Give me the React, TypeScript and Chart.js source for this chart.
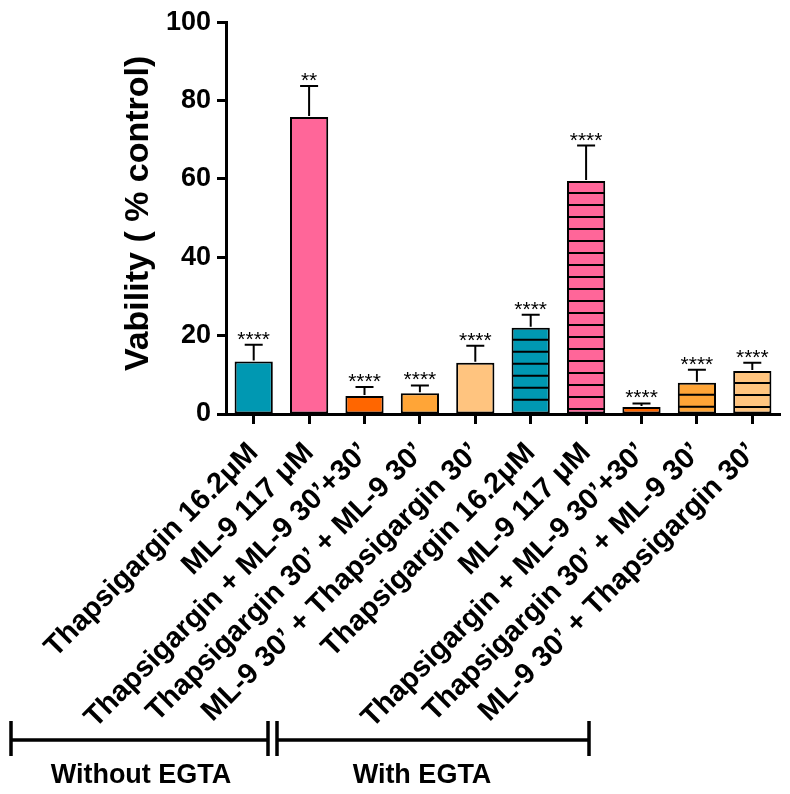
import React, { useEffect, useRef } from "react";
import { Chart, registerables } from "chart.js";

Chart.register(...registerables);

const categories = [
  "Thapsigargin 16.2μM",
  "ML-9 117 μM",
  "Thapsigargin + ML-9 30’+30’",
  "Thapsigargin 30’ + ML-9 30’",
  "ML-9 30’ + Thapsigargin 30’",
  "Thapsigargin 16.2μM",
  "ML-9 117 μM",
  "Thapsigargin + ML-9 30’+30’",
  "Thapsigargin 30’ + ML-9 30’",
  "ML-9 30’ + Thapsigargin 30’",
];
const values = [13.4, 75.8, 4.6, 5.3, 13.1, 22.0, 59.5, 1.8, 8.0, 11.0];
const errors = [4.3, 7.9, 2.3, 2.0, 4.3, 3.3, 9.0, 0.9, 3.3, 2.1];
const stars = ["****", "**", "****", "****", "****", "****", "****", "****", "****", "****"];
const barColors = [
  "#0098B2", "#FF6699", "#FF6600", "#FFA537", "#FFC47F",
  "#0098B2", "#FF6699", "#FF6600", "#FFA537", "#FFC47F",
];
const hatched = [false, false, false, false, false, true, true, true, true, true];
const groups = ["Without EGTA", "With EGTA"];

const FONT = "'Liberation Sans', Arial, Helvetica, sans-serif";

const overlayPlugin = {
  id: "overlay",
  afterDatasetsDraw(chart: any) {
    const ctx = chart.ctx;
    const meta = chart.getDatasetMeta(0);
    const yScale = chart.scales.y;
    meta.data.forEach((bar: any, i: number) => {
      const p = bar.getProps(["x", "y", "base", "width"], true);
      const left = p.x - p.width / 2;
      const right = p.x + p.width / 2;
      ctx.save();
      ctx.strokeStyle = "#000";
      ctx.lineWidth = 2;
      if (hatched[i]) {
        ctx.beginPath();
        for (let yy = p.y + 12; yy < p.base - 3; yy += 12) {
          ctx.moveTo(left + 1, yy);
          ctx.lineTo(right - 1, yy);
        }
        ctx.stroke();
      }
      const yErr = yScale.getPixelForValue(values[i] + errors[i]);
      ctx.beginPath();
      ctx.moveTo(p.x, p.y - 1);
      ctx.lineTo(p.x, yErr);
      ctx.moveTo(p.x - 9, yErr);
      ctx.lineTo(p.x + 9, yErr);
      ctx.stroke();
      ctx.fillStyle = "#000";
      ctx.font = `21px ${FONT}`;
      ctx.textAlign = "center";
      ctx.textBaseline = "alphabetic";
      ctx.fillText(stars[i], p.x, yErr + 1);
      ctx.restore();
    });
  },
  afterDraw(chart: any) {
    const ctx = chart.ctx;
    ctx.save();
    ctx.strokeStyle = "#000";
    ctx.lineWidth = 3.5;
    const lineY = 740;
    const drawBracket = (x1: number, x2: number) => {
      ctx.beginPath();
      ctx.moveTo(x1, lineY);
      ctx.lineTo(x2, lineY);
      ctx.moveTo(x1, 721);
      ctx.lineTo(x1, 756);
      ctx.moveTo(x2, 721);
      ctx.lineTo(x2, 756);
      ctx.stroke();
    };
    drawBracket(11, 268);
    drawBracket(277, 589);
    ctx.fillStyle = "#000";
    ctx.font = `bold 27px ${FONT}`;
    ctx.textAlign = "center";
    ctx.textBaseline = "middle";
    ctx.fillText(groups[0], 141, 776);
    ctx.fillText(groups[1], 422, 776);
    ctx.restore();
  },
};

export default function App() {
  const ref = useRef<HTMLCanvasElement>(null);
  useEffect(() => {
    if (!ref.current) return;
    const chart = new Chart(ref.current, {
      type: "bar",
      data: {
        labels: categories,
        datasets: [
          {
            data: values,
            backgroundColor: barColors,
            borderColor: "#000",
            borderWidth: 2,
            borderSkipped: false,
            barPercentage: 0.69,
            categoryPercentage: 1,
          },
        ],
      },
      options: {
        animation: false,
        responsive: false,
        maintainAspectRatio: false,
        layout: { padding: { left: 118, right: 10, top: 18, bottom: 0 } },
        plugins: {
          legend: { display: false },
          tooltip: { enabled: false },
        },
        scales: {
          x: {
            z: 1,
            offset: true,
            grid: {
              display: true,
              offset: false,
              drawOnChartArea: false,
              drawTicks: true,
              tickLength: 10,
              tickWidth: 3,
              tickColor: "#000",
            },
            border: { display: true, color: "#000", width: 3 },
            ticks: {
              autoSkip: false,
              maxRotation: 45,
              minRotation: 45,
              padding: 12,
              color: "#000",
              font: { family: FONT, size: 29, weight: "bold" },
            },
            afterFit: (s: any) => {
              s.height = 380;
            },
          },
          y: {
            z: 1,
            min: 0,
            max: 100,
            grid: {
              display: true,
              drawOnChartArea: false,
              drawTicks: true,
              tickLength: 9,
              tickWidth: 3,
              tickColor: "#000",
            },
            border: { display: true, color: "#000", width: 3 },
            ticks: {
              stepSize: 20,
              padding: 6,
              color: "#000",
              font: { family: FONT, size: 27, weight: "bold" },
            },
            title: {
              display: true,
              text: " Vability ( % control)",
              color: "#000",
              padding: 0,
              font: { family: FONT, size: 34, weight: "bold" },
            },
            afterFit: (s: any) => {
              s.width = 108;
            },
          },
        },
      },
      plugins: [overlayPlugin],
    });
    return () => chart.destroy();
  }, []);
  return (
    <div style={{ position: "absolute", left: 0, top: 0, width: 790, height: 794, background: "#fff" }}>
      <canvas ref={ref} width={790} height={794} style={{ display: "block", width: 790, height: 794 }} />
    </div>
  );
}
